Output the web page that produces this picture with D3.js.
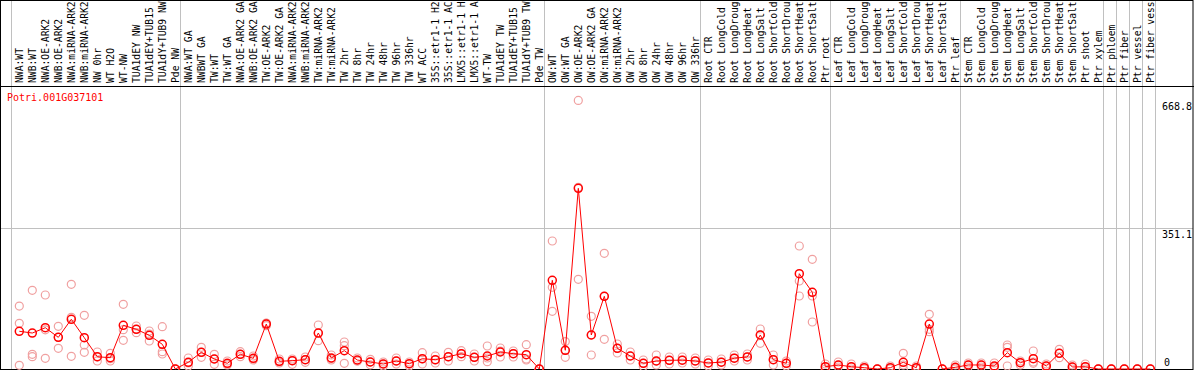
<!DOCTYPE html>
<html>
<head>
<meta charset="utf-8">
<script src="https://cdn.jsdelivr.net/npm/d3@7"></script>
<style>
  body { margin: 0; background: #fff; }
  svg { display: block; }
</style>
</head>
<body>
<div id="chart"></div>
<script>
// gene name shown in the corner
var geneName = "Potri.001G037101";

// sample names, left to right
var samples = [
  "NWA:WT", "NWB:WT", "NWA:OE-ARK2", "NWB:OE-ARK2", "NWA:miRNA-ARK2", "NWB:miRNA-ARK2",
  "NW 0hr", "WT H2O", "WT-NW", "TUA1dEY NW", "TUA1dEY+TUB15 NW", "TUA1dY+TUB9 NW", "Pde NW",
  "NWA:WT GA", "NWBWT GA", "TW:WT", "TW:WT GA", "NWA:OE-ARK2 GA", "NWB:OE-ARK2 GA",
  "TW:OE-ARK2", "TW:OE-ARK2 GA", "NWA:miRNA-ARK2", "NWB:miRNA-ARK2", "TW:miRNA-ARK2", "TW:miRNA-ARK2",
  "TW 2hr", "TW 8hr", "TW 24hr", "TW 48hr", "TW 96hr", "TW 336hr", "WT ACC",
  "35S::etr1-1 H2O", "35S::etr1-1 ACC", "LMX5::etr1-1 H2O", "LMX5::etr1-1 ACC",
  "WT-TW", "TUA1dEY TW", "TUA1dEY+TUB15 TW", "TUA1dY+TUB9 TW", "Pde TW",
  "OW:WT", "OW:WT GA", "OW:OE-ARK2", "OW:OE-ARK2 GA", "OW:miRNA-ARK2", "OW:miRNA-ARK2",
  "OW 2hr", "OW 8hr", "OW 24hr", "OW 48hr", "OW 96hr", "OW 336hr",
  "Root CTR", "Root LongCold", "Root LongDrought", "Root LongHeat", "Root LongSalt",
  "Root ShortCold", "Root ShortDrought", "Root ShortHeat", "Root ShortSalt", "Ptr root",
  "Leaf CTR", "Leaf LongCold", "Leaf LongDrought", "Leaf LongHeat", "Leaf LongSalt",
  "Leaf ShortCold", "Leaf ShortDrought", "Leaf ShortHeat", "Leaf ShortSalt", "Ptr leaf",
  "Stem CTR", "Stem LongCold", "Stem LongDrought", "Stem LongHeat", "Stem LongSalt",
  "Stem ShortCold", "Stem ShortDrought", "Stem ShortHeat", "Stem ShortSalt", "Ptr shoot",
  "Ptr xylem", "Ptr phloem", "Ptr fiber", "Ptr vessel", "Ptr fiber vessel"
];

// group boundaries (index of first sample after each separator)
var groupBreaks = [0, 13, 41, 53, 63, 73, 84, 85, 86, 87, 88];

// mean expression per sample
var means = [
  93.9, 89.6, 102.8, 78.9, 123.8, 77.9, 30.6, 28.1, 108.8, 98.9, 83.9, 61.5, 0,
  16.7, 41.6, 24.9, 14.2, 36.6, 26.6, 112, 19.2, 20.7, 23.2, 89.6, 27.4,
  45.6, 22.4, 17.4, 12.5, 19.9, 13.2, 25.6, 23.2, 30.6, 38.1, 29.1,
  32.4, 42.3, 38.1, 35.6, 0,
  220.9, 46.6, 449.9, 84.7, 181, 51.5, 32.4, 14.2, 19.9, 21.7, 22, 20,
  15, 17, 27, 30, 84.7, 23.2, 14.2, 237.3, 191, 5.7,
  10, 5.7, 3.2, 0, 3.2, 16.7, 3.2, 112, 0, 4.2,
  10, 10, 7.5, 40.6, 15.7, 25.6, 7.5, 39.1, 5, 5.7,
  0, 0, 0, 0, 0
];

// replicate values per sample
var reps = [
  [156.6, 113.8, 9.2], [196, 36.6, 30.6], [184.3, 97.6, 26.6], [106.3, 78.9, 51.5],
  [210.9, 128.7, 31.6], [133.7, 59.8, 41.6], [42.3, 29.9, 19.9], [39.1, 25.6, 19.9],
  [161.1, 97.9, 71.5], [107.1, 98.9, 90.4], [94.6, 87.2, 69.7], [105.4, 43.1, 37.4], [0, 0, 0],
  [27.4, 14.9, 7.5], [54, 29.1, 41.6], [36.6, 11.7, 24.9], [19.9, 12.5, 10],
  [43.1, 30.6, 36.6], [32.4, 24.9, 22.4], [113.8, 107.8, 114.5], [24.9, 17.4, 14.9],
  [24.9, 20.7, 11.7], [29.9, 23.2, 16.7], [109.6, 70.5, 89.6], [34.9, 22.4, 25.6],
  [67.2, 58, 14.2], [27.4, 19.9, 19.9], [24.2, 17.4, 10.5], [17.4, 12.5, 7.5],
  [27.4, 19.9, 12.5], [17.4, 12.5, 7.5], [40.6, 24.9, 12.5], [32.4, 22.4, 14.9],
  [41.6, 29.9, 19.9], [45.6, 38.1, 30.6], [37.4, 29.1, 19.9], [57.3, 27.4, 18.2],
  [52.3, 44.8, 29.9], [44.8, 38.1, 29.9], [60.5, 24.9, 22.4], [0, 0, 0],
  [318.7, 203.4, 143.7], [68.2, 46.6, 29.1], [668.8, 452.4, 223.4], [131.2, 84.7, 34.9],
  [288.1, 181, 74], [62.3, 51.5, 39.8], [42.3, 32.4, 22.4], [22.4, 14.2, 6.2],
  [34.9, 19.9, 10], [29.9, 21.7, 12.5], [29.9, 22.4, 14.9], [27.4, 19.9, 12.5],
  [22.4, 14.9, 7.5], [24.9, 17.4, 10], [34.9, 27.4, 19.9], [37.4, 29.9, 22.4],
  [99.6, 84.7, 64], [34.9, 23.2, 10], [19.9, 14.2, 7.5], [306.3, 219.1, 181.8],
  [273.2, 181.8, 117], [12.5, 5, 0],
  [17.4, 10, 5], [12.5, 5, 0], [7.5, 2.5, 0], [0, 0, 0], [7.5, 2.5, 0],
  [39.1, 10, 0], [7.5, 2.5, 0], [136.2, 98.9, 92.9], [0, 0, 0], [10, 2.5, 0],
  [14.9, 10, 5], [14.9, 10, 5], [14.9, 5, 2.5], [59.8, 54, 7.5], [19.9, 15.7, 10],
  [44.8, 17.4, 14.2], [12.5, 7.5, 2.5], [49, 39.1, 28.1], [10, 5, 0], [12.5, 5, 0],
  [0, 0, 0], [0, 0, 0], [0, 0, 0], [0, 0, 0], [0, 0, 0]
];

// y axis labels
var yMax = 702.2;
var yTicks = [668.8, 351.1, 0];
var yGrid = [351.1];

var width = 1194, height = 370;
var headerH = 86;
var maxChars = 14;   // header only fits this many characters

var svg = d3.select("#chart").append("svg")
  .attr("width", width)
  .attr("height", height);

var x = d3.scaleBand()
  .domain(d3.range(samples.length))
  .range([11, 1155])
  .padding(0);

function px(i) { return x(i) + 8.3; }

var y = d3.scaleLinear()
  .domain([0, yMax])
  .range([369, 87]);

var font = "'DejaVu Sans Mono', monospace";

// vertical separators between groups
svg.selectAll("line.sep")
  .data(groupBreaks)
  .enter().append("line")
  .attr("x1", function(d) { return x(d) !== undefined ? x(d) + 0.5 : 1155.5; })
  .attr("x2", function(d) { return x(d) !== undefined ? x(d) + 0.5 : 1155.5; })
  .attr("y1", 0)
  .attr("y2", height)
  .attr("stroke", "#c0c0c0")
  .attr("stroke-width", 1);

// horizontal grid
svg.selectAll("line.grid")
  .data(yGrid)
  .enter().append("line")
  .attr("x1", 1)
  .attr("x2", 1193)
  .attr("y1", function(d) { return Math.round(y(d)) + 0.5; })
  .attr("y2", function(d) { return Math.round(y(d)) + 0.5; })
  .attr("stroke", "#c0c0c0");

// sample names, rotated
svg.selectAll("text.sample")
  .data(samples)
  .enter().append("text")
  .attr("transform", function(d, i) { return "translate(" + (px(i) + 3.5) + "," + (headerH - 3) + ") rotate(-90)"; })
  .attr("font-family", font)
  .attr("font-size", 9.7)
  .attr("fill", "#000")
  .text(function(d) { return d.slice(0, maxChars); });

// header separator and frame
svg.append("line")
  .attr("x1", 0).attr("x2", width)
  .attr("y1", headerH + 0.5).attr("y2", headerH + 0.5)
  .attr("stroke", "#000");
svg.append("rect")
  .attr("x", 0.5).attr("y", 0.5)
  .attr("width", width - 1.5).attr("height", height - 1)
  .attr("fill", "none")
  .attr("stroke", "#000");

// gene name
svg.append("text")
  .attr("x", 7)
  .attr("y", 101)
  .attr("font-family", font)
  .attr("font-size", 10)
  .attr("fill", "#ff0000")
  .text(geneName);

// y labels on the right
svg.selectAll("text.ylab")
  .data(yTicks)
  .enter().append("text")
  .attr("x", function(d) { return d === 0 ? 1164 : 1162; })
  .attr("y", function(d) { return d === 0 ? y(d) - 3 : y(d) + 10; })
  .attr("font-family", font)
  .attr("font-size", 10)
  .attr("fill", "#000")
  .text(function(d) { return d; });

// replicates
var repPts = [];
reps.forEach(function(r, i) {
  r.forEach(function(v) { repPts.push({ i: i, v: v }); });
});
svg.selectAll("circle.rep")
  .data(repPts)
  .enter().append("circle")
  .attr("cx", function(d) { return px(d.i); })
  .attr("cy", function(d) { return y(d.v); })
  .attr("r", 4)
  .attr("fill", "none")
  .attr("stroke", "#f0a0a0")
  .attr("stroke-width", 1.2);

// mean line
var line = d3.line()
  .x(function(d, i) { return px(i); })
  .y(function(d) { return y(d); });
svg.append("path")
  .datum(means)
  .attr("d", line)
  .attr("fill", "none")
  .attr("stroke", "#ff0000")
  .attr("stroke-width", 1);

// mean markers
svg.selectAll("circle.mean")
  .data(means)
  .enter().append("circle")
  .attr("cx", function(d, i) { return px(i); })
  .attr("cy", function(d) { return y(d); })
  .attr("r", 4)
  .attr("fill", "none")
  .attr("stroke", "#ff0000")
  .attr("stroke-width", 1.5);
</script>
</body>
</html>
